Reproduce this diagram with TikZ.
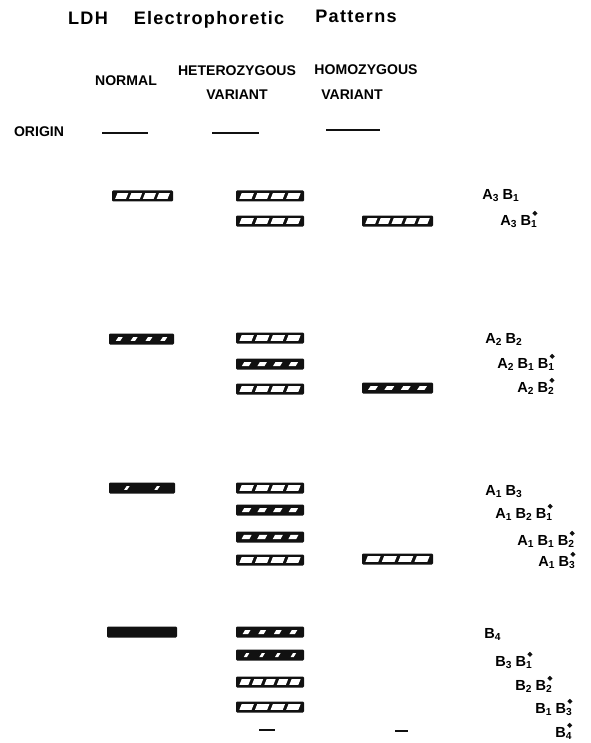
\documentclass[tikz,border=0pt]{standalone}
\usepackage{fontspec}
\setmainfont{Liberation Sans}
\newfontfamily\titlefont[LetterSpace=7]{Liberation Sans}
\newfontfamily\labfont[LetterSpace=6]{Liberation Sans}
\usepackage{tikz}
\definecolor{bandink}{HTML}{111111}
\newcommand{\subunit}[2]{#1\textsubscript{#2}\kern1.8pt}
\newcommand{\varunit}[2]{#1\rlap{\kern0.9pt\tikz[baseline=0pt]\draw[bandink,line width=0.9pt] (0,0.8em) circle (0.1em);}\textsubscript{#2}}
% one gel band: left, right, centre y, cells, which cells, white share, white half height
\newcommand{\gelband}[7]{%
  \fill[bandink,rounded corners=0.6pt] (#1,#3-5.5) rectangle (#2,#3+5.5);
  \begin{scope}
    \clip (#1+2.8,#3-2.6) rectangle (#2-2.8,#3+2.6);
    \foreach \k in {#5}{
      \pgfmathsetmacro\cw{(#2-#1-5.6)/#4}
      \pgfmathsetmacro\xa{#1+2.8+(\k-0.5)*\cw-#6*\cw/2}
      \pgfmathsetmacro\xb{\xa+#6*\cw}
      \fill[white] (\xa-1.2,#3+#7) -- (\xb-1.2,#3+#7) -- (\xb+1.2,#3-#7) -- (\xa+1.2,#3-#7) -- cycle;
    }
  \end{scope}}

\begin{document}
\begin{tikzpicture}[x=0.02cm,y=-0.02cm,
  ttl/.style={anchor=base,font=\titlefont\bfseries\fontsize{10.3}{12}\selectfont,inner sep=0pt},
  hdr/.style={anchor=base,font=\bfseries\fontsize{8}{10}\selectfont,inner sep=0pt},
  lab/.style={anchor=base west,font=\labfont\bfseries\fontsize{8.3}{10}\selectfont,inner sep=0pt},
  originline/.style={bandink,line width=1.2pt}]
  \useasboundingbox (0,0) rectangle (591,743);
  % title
  \node[ttl] (ldh) at (88,25) {LDH};
  \node[ttl] (elec) at (209,25) {Electrophoretic};
  \node[ttl] (patt) at (356,23) {Patterns};
  % column heads
  \node[hdr] (normal) at (126,86) {NORMAL};
  \node[hdr] (hetero) at (237,76) {HETEROZYGOUS};
  \node[hdr] (heterov) at (237,100) {VARIANT};
  \node[hdr] (homo) at (366,75) {HOMOZYGOUS};
  \node[hdr] (homov) at (352,100) {VARIANT};
  \node[hdr] (origin) at (39,137) {ORIGIN};
  % origin lines
  \draw[originline] (102,133) -- (148,133);
  \draw[originline] (212,133) -- (259,133);
  \draw[originline] (326,130) -- (380,130);
  % normal
  \gelband{112}{173}{196}{4}{1,...,4}{0.78}{3}
  \gelband{109}{174}{339}{4}{1,...,4}{0.3}{1.8}
  \gelband{109}{175}{488}{2}{1,2}{0.1}{1.8}
  \fill[bandink,rounded corners=0.6pt] (107,626.5) rectangle (177,637.5);
  % heterozygous variant
  \gelband{236}{304}{196}{4}{1,...,4}{0.78}{3}
  \gelband{236}{304}{221}{4}{1,...,4}{0.78}{3}
  \gelband{236}{304}{338}{4}{1,...,4}{0.78}{3}
  \gelband{236}{304}{364}{4}{1,...,4}{0.45}{2}
  \gelband{236}{304}{389}{4}{1,...,4}{0.78}{3}
  \gelband{236}{304}{488}{4}{1,...,4}{0.78}{3}
  \gelband{236}{304}{510}{4}{1,...,4}{0.45}{2}
  \gelband{236}{304}{537}{4}{1,...,4}{0.5}{2.2}
  \gelband{236}{304}{560}{4}{1,...,4}{0.78}{3}
  \gelband{236}{304}{632}{4}{1,...,4}{0.35}{2}
  \gelband{236}{304}{655}{4}{1,...,4}{0.2}{2}
  \gelband{236}{304}{682}{5}{1,...,5}{0.72}{3}
  \gelband{236}{304}{707}{4}{1,...,4}{0.78}{3}
  \draw[originline] (259,730) -- (275,730);
  % homozygous variant
  \gelband{362}{433}{221}{5}{1,...,5}{0.75}{3}
  \gelband{362}{433}{388}{4}{1,...,4}{0.45}{1.8}
  \gelband{362}{433}{559}{4}{1,...,4}{0.78}{3}
  \draw[originline] (395,731) -- (408,731);
  % isozyme labels
  \node[lab] (l31) at (482,199) {\subunit{A}{3}\subunit{B}{1}};
  \node[lab] (l31v) at (500,225) {\subunit{A}{3}\varunit{B}{1}};
  \node[lab] (l22) at (485,343) {\subunit{A}{2}\subunit{B}{2}};
  \node[lab] (l211v) at (497,368) {\subunit{A}{2}\subunit{B}{1}\varunit{B}{1}};
  \node[lab] (l22v) at (517,392) {\subunit{A}{2}\varunit{B}{2}};
  \node[lab] (l13) at (485,495) {\subunit{A}{1}\subunit{B}{3}};
  \node[lab] (l121v) at (495,518) {\subunit{A}{1}\subunit{B}{2}\varunit{B}{1}};
  \node[lab] (l112v) at (517,545) {\subunit{A}{1}\subunit{B}{1}\varunit{B}{2}};
  \node[lab] (l13v) at (538,566) {\subunit{A}{1}\varunit{B}{3}};
  \node[lab] (l4) at (484,638) {\subunit{B}{4}};
  \node[lab] (l31b) at (495,666) {\subunit{B}{3}\varunit{B}{1}};
  \node[lab] (l22b) at (515,690) {\subunit{B}{2}\varunit{B}{2}};
  \node[lab] (l13b) at (535,713) {\subunit{B}{1}\varunit{B}{3}};
  \node[lab] (l4v) at (555,737) {\varunit{B}{4}};
\end{tikzpicture}
\end{document}
